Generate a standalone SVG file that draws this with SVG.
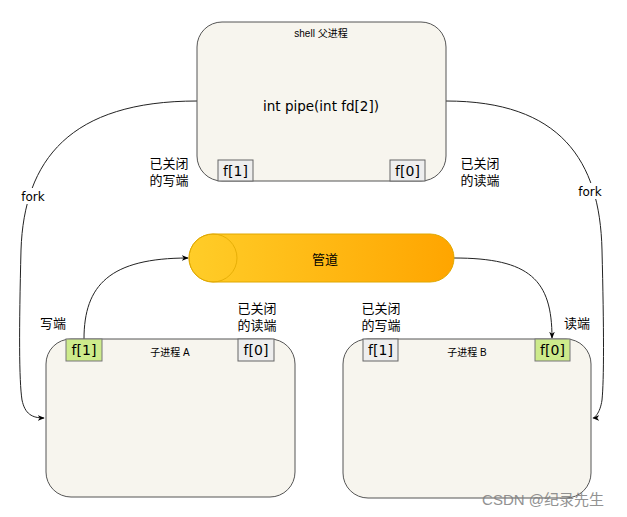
<svg xmlns="http://www.w3.org/2000/svg" width="627" height="517" viewBox="0 0 627 517">
<defs>
<linearGradient id="pg" x1="0" y1="0" x2="1" y2="0">
<stop offset="0" stop-color="#ffcd28"/>
<stop offset="1" stop-color="#ffa500"/>
</linearGradient>
<marker id="ah" viewBox="0 0 10 10" refX="9" refY="5" markerWidth="7" markerHeight="7" orient="auto" markerUnits="userSpaceOnUse">
<path d="M0,1 L10,5 L0,9 L3,5 Z" fill="#000"/>
</marker>
<style>
.box{fill:#f7f5ee;stroke:#555;stroke-width:1}
.fg{fill:#eeeeee;stroke:#666;stroke-width:1}
.fgr{fill:#cdeb8b;stroke:#777;stroke-width:1}
.ft{font-family:"DejaVu Sans","Liberation Sans",sans-serif;font-size:13px;fill:#000;text-anchor:middle}
.sm{font-family:"Liberation Sans","Noto Sans CJK SC",sans-serif;font-size:10px;fill:#000;text-anchor:middle}
.lb{font-family:"Liberation Sans","Noto Sans CJK SC",sans-serif;font-size:13px;fill:#000;text-anchor:middle}
.edge{fill:none;stroke:#222;stroke-width:1}
</style>
</defs>
<rect width="627" height="517" fill="#fff"/>
<g id="edges">
<path class="edge" d="M197 101 C70 101 24 160 21 250 C19 330 19 380 22 400 C25 414 32 418 44 418" marker-end="url(#ah)"/>
<path class="edge" d="M446 101 C560 101 600 160 602 250 C604 330 604 380 602 400 C600 414 594 418 593 418" marker-end="url(#ah)"/>
<path class="edge" d="M84 339 C84 285 110 258 188 258" marker-end="url(#ah)"/>
<path class="edge" d="M454 258 C530 258 552 280 552 338" marker-end="url(#ah)"/>
</g>
<g id="parent">
<rect class="box" x="197" y="22" width="249" height="159" rx="25" ry="25"/>
<text class="sm" x="321" y="37">shell 父进程</text>
<text class="ft" x="321" y="111" style="font-size:13.5px">int pipe(int fd[2])</text>
<rect class="fg" x="218" y="160" width="35" height="21"/>
<text class="ft" x="235.5" y="176" style="font-size:14px">f[1]</text>
<rect class="fg" x="390" y="160" width="35" height="21"/>
<text class="ft" x="407.5" y="176" style="font-size:14px">f[0]</text>
</g>
<g id="pipe">
<rect x="189" y="234" width="265" height="48" rx="24" ry="24" fill="url(#pg)" stroke="#e0a800"/>
<ellipse cx="213" cy="258" rx="24" ry="24" fill="none" stroke="#e0a800" stroke-width="0.8"/>
<text class="lb" x="325" y="264">管道</text>
</g>
<g id="childA">
<rect class="box" x="46" y="339" width="249" height="158" rx="25" ry="25"/>
<rect class="fgr" x="66" y="339" width="36" height="22"/>
<text class="ft" x="84" y="355" style="font-size:14px">f[1]</text>
<rect class="fg" x="238" y="339" width="36" height="22"/>
<text class="ft" x="256" y="355" style="font-size:14px">f[0]</text>
<text class="sm" x="170" y="356">子进程 A</text>
</g>
<g id="childB">
<rect class="box" x="343" y="339" width="248" height="159" rx="25" ry="25"/>
<rect class="fg" x="363" y="339" width="35" height="22"/>
<text class="ft" x="380.5" y="355" style="font-size:14px">f[1]</text>
<rect class="fgr" x="535" y="339" width="35" height="22"/>
<text class="ft" x="552.5" y="355" style="font-size:14px">f[0]</text>
<text class="sm" x="467" y="356">子进程 B</text>
</g>
<g id="labels">
<rect x="18" y="188" width="30" height="16" fill="#fff"/>
<text class="ft" x="33" y="201" style="font-size:12px">fork</text>
<rect x="575" y="183" width="30" height="16" fill="#fff"/>
<text class="ft" x="590" y="196" style="font-size:12px">fork</text>
<text class="lb" x="169" y="168">已关闭</text>
<text class="lb" x="169" y="185">的写端</text>
<text class="lb" x="480" y="168">已关闭</text>
<text class="lb" x="480" y="185">的读端</text>
<text class="lb" x="53" y="328">写端</text>
<text class="lb" x="577" y="328">读端</text>
<text class="lb" x="257" y="313">已关闭</text>
<text class="lb" x="257" y="330">的读端</text>
<text class="lb" x="381" y="313">已关闭</text>
<text class="lb" x="381" y="330">的写端</text>
<text x="543" y="505" style="font-family:'Liberation Sans','Noto Sans CJK SC',sans-serif;font-size:15px;fill:#808080;text-anchor:middle;opacity:0.85">CSDN @纪录先生</text>
</g>
</svg>
